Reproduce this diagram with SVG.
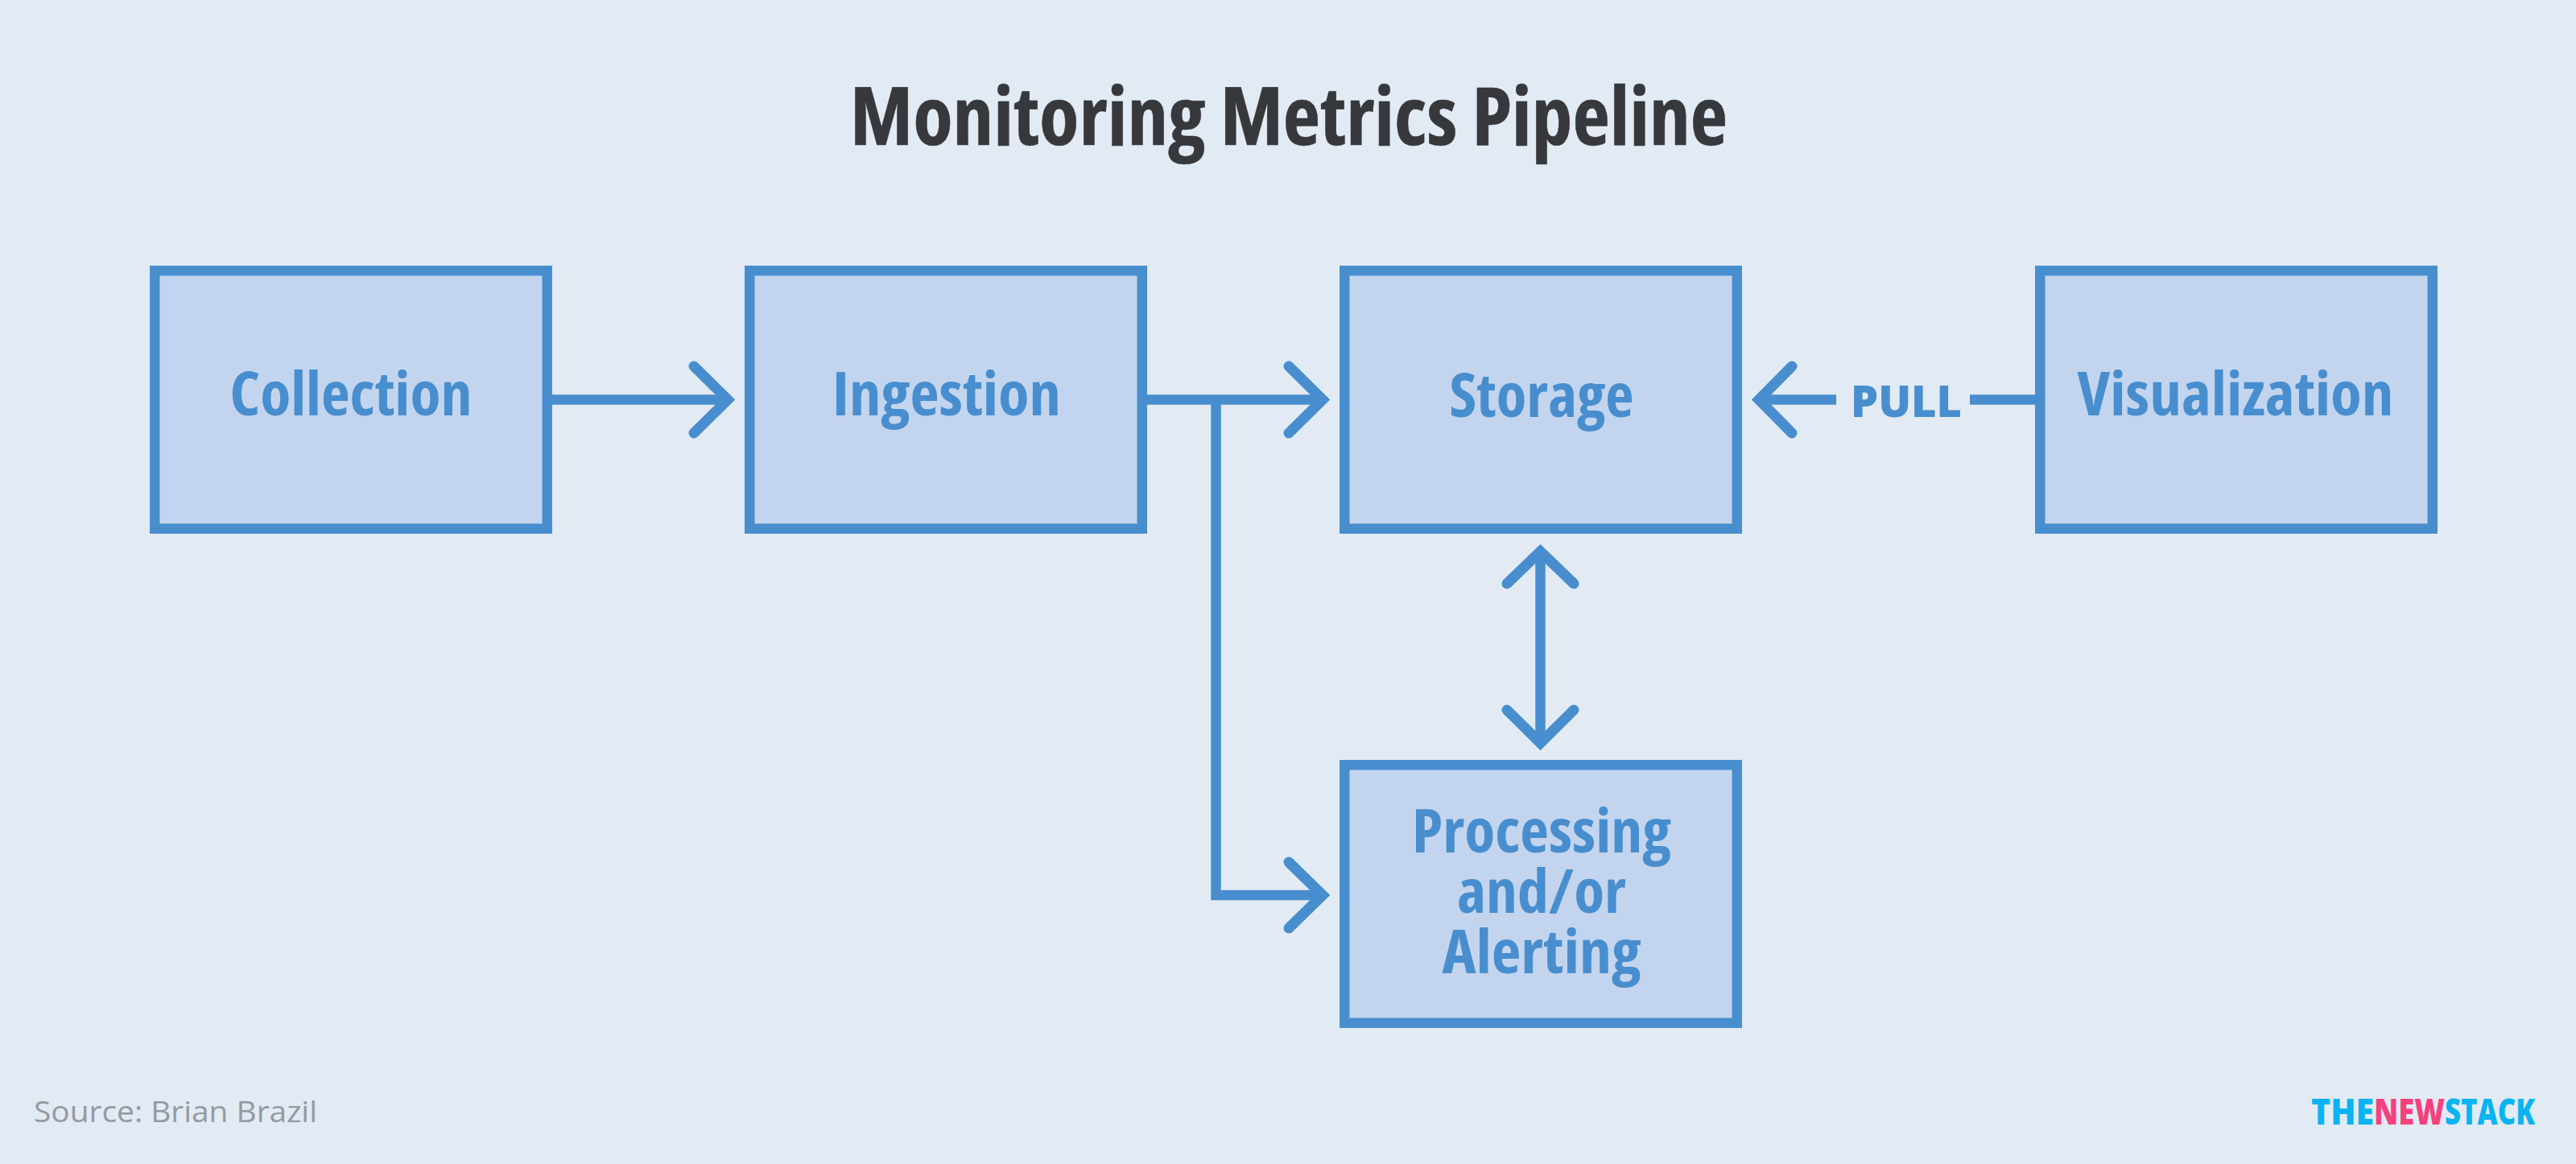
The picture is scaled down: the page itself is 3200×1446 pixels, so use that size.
<svg xmlns="http://www.w3.org/2000/svg" width="3200" height="1446" viewBox="0 0 3200 1446">
<style>
.box{fill:#c3d5ee;stroke:#488ecf;stroke-width:12.500}
.lbl{font-family:"Open Sans","Noto Sans",sans-serif;font-weight:700;font-stretch:75%;font-size:75px;fill:#488ecf;text-anchor:middle}
.c{fill:none;stroke:#488ecf;stroke-width:12.500}
.h{fill:none;stroke:#488ecf;stroke-width:13;stroke-linecap:round;stroke-linejoin:miter}
</style>
<rect width="3200" height="1446" fill="#e2eaf4"/>
<text x="1601" y="180" font-family="Open Sans,sans-serif" font-weight="700" font-size="100" fill="#36383c" stroke="#36383c" stroke-width="0.500" style="font-stretch:75%" text-anchor="middle" textLength="1090" lengthAdjust="spacingAndGlyphs">Monitoring Metrics Pipeline</text>
<g id="collection"><rect class="box" x="192.250" y="336.250" width="487.500" height="320.500"/><text class="lbl" x="436" y="516" textLength="301" lengthAdjust="spacingAndGlyphs">Collection</text></g>
<g id="ingestion"><rect class="box" x="931.250" y="336.250" width="487.500" height="320.500"/><text class="lbl" x="1176" y="516" textLength="284" lengthAdjust="spacingAndGlyphs">Ingestion</text></g>
<g id="storage"><rect class="box" x="1670.250" y="336.250" width="487.500" height="320.500"/><text class="lbl" x="1915" y="518" textLength="229" lengthAdjust="spacingAndGlyphs">Storage</text></g>
<g id="visualization"><rect class="box" x="2534.250" y="336.250" width="487.500" height="320.500"/><text class="lbl" x="2777" y="516" textLength="393" lengthAdjust="spacingAndGlyphs">Visualization</text></g>
<g id="processing"><rect class="box" x="1670.250" y="950.250" width="487.500" height="320.500"/>
<text class="lbl" x="1915" y="1059" textLength="322" lengthAdjust="spacingAndGlyphs">Processing</text><text class="lbl" x="1915" y="1134" textLength="210" lengthAdjust="spacingAndGlyphs">and/or</text><text class="lbl" x="1915" y="1209" textLength="247" lengthAdjust="spacingAndGlyphs">Alerting</text></g>
<g id="connectors">
<path class="c" d="M680 496.500H900"/><path class="h" d="M862 455L904 496.500L862 538"/>
<path class="c" d="M1419 496.500H1640"/><path class="h" d="M1601 455L1643 496.500L1601 538"/>
<path class="c" d="M1510.500 496.500V1112H1640"/><path class="h" d="M1601 1071L1643 1112L1601 1153"/>
<path class="c" d="M1913.500 690V918"/><path class="h" d="M1872 725L1913.500 685L1955 725"/><path class="h" d="M1872 882L1913.500 923L1955 882"/>
<path class="c" d="M2528 496.500H2447M2281 496.500H2188"/><path class="h" d="M2226 455L2185 496.500L2226 538"/>
<text x="2368" y="518" font-family="Open Sans,sans-serif" font-weight="800" font-size="54" fill="#488ecf" text-anchor="middle" textLength="138" lengthAdjust="spacingAndGlyphs">PULL</text>
</g>
<text x="42" y="1394" font-family="Open Sans,sans-serif" font-size="37" fill="#9699a1" textLength="352" lengthAdjust="spacingAndGlyphs">Source: Brian Brazil</text>
<g id="logo" font-family="Open Sans,sans-serif" font-weight="800" font-size="45"><text x="2871" y="1397" fill="#08b4f2" textLength="78" lengthAdjust="spacingAndGlyphs">THE</text><text x="2949" y="1397" fill="#f5417d" textLength="88" lengthAdjust="spacingAndGlyphs">NEW</text><text x="3037" y="1397" fill="#08b4f2" textLength="112" lengthAdjust="spacingAndGlyphs">STACK</text></g>
</svg>
